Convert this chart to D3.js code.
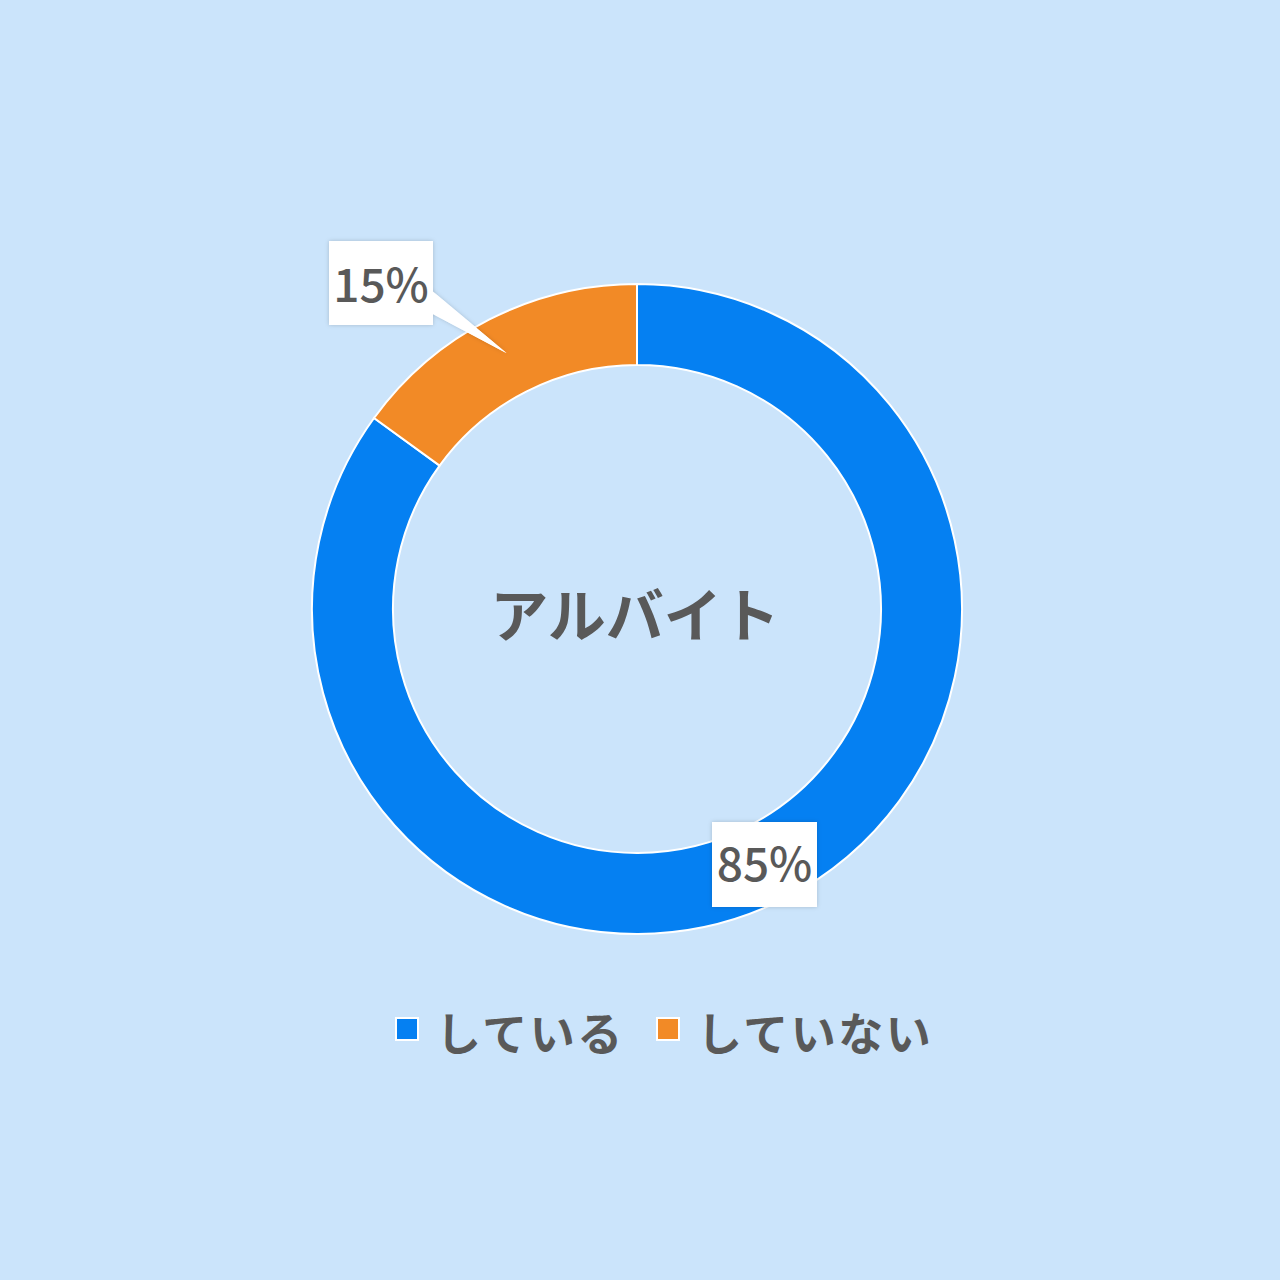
<!DOCTYPE html>
<html><head><meta charset="utf-8">
<script src="https://cdn.jsdelivr.net/npm/d3@7"></script>
<style>html,body{margin:0;padding:0;background:#CBE4FB;}svg{display:block;}</style>
</head><body>
<svg id="c" width="1280" height="1280"></svg>
<script>
const categories = ["している", "していない"];
const values = [85, 15];
const labels = ["85%", "15%"];
const colors = ["#0580F2", "#F28A26"];
const title = "アルバイト";

const svg = d3.select("#c");
const W = 1280, H = 1280;
svg.append("rect").attr("width", W).attr("height", H).attr("fill", "#CBE4FB");
const defs = svg.append("defs");
const f = defs.append("filter").attr("id", "sh").attr("x", "-20%").attr("y", "-20%").attr("width", "140%").attr("height", "140%");
f.append("feDropShadow").attr("dx", 0).attr("dy", 0).attr("stdDeviation", 2).attr("flood-color", "#000").attr("flood-opacity", 0.18);

const cx = 637, cy = 609, rOuter = 325, rInner = 244;
const g = svg.append("g").attr("transform", `translate(${cx},${cy})`);
const pie = d3.pie().sort(null).value(d => d);
const arcs = pie(values);
const arc = d3.arc().innerRadius(rInner).outerRadius(rOuter);
g.selectAll("path.s").data(arcs).enter().append("path")
  .attr("d", arc).attr("fill", (d, i) => colors[i])
  .attr("stroke", "#fff").attr("stroke-width", 2);

const font = "'Noto Sans CJK JP','Noto Sans',sans-serif";
g.append("text").attr("x", -2).attr("y", 3).attr("text-anchor", "middle").attr("dominant-baseline", "central")
  .attr("font-family", font).attr("font-weight", 700).attr("font-size", 58).attr("fill", "#595959").text(title);

// Labels
const lab = svg.append("g");
const box85 = {x: 712, y: 822, w: 105, h: 85};
lab.append("rect").attr("x", box85.x).attr("y", box85.y).attr("width", box85.w).attr("height", box85.h)
  .attr("fill", "#fff").attr("filter", "url(#sh)");
lab.append("text").attr("x", box85.x + box85.w / 2).attr("y", 881).attr("text-anchor", "middle")
  .attr("font-family", font).attr("font-weight", 500).attr("font-size", 46).attr("fill", "#595959").text(labels[0]);

// 15% label with callout
const s15 = arcs[1];
const a15 = (s15.startAngle + s15.endAngle) / 2;
const tipR = 287;
const tip = [cx + Math.sin(a15) * tipR, cy - Math.cos(a15) * tipR];
const box15 = {x: 329, y: 241, w: 104, h: 84};
const ptr = `M${box15.x + box15.w - 2},${290} L${tip[0]},${tip[1]} L${box15.x + box15.w - 2},${313} Z`;
lab.append("path").attr("d", ptr).attr("fill", "#fff").attr("filter", "url(#sh)");
lab.append("rect").attr("x", box15.x).attr("y", box15.y).attr("width", box15.w).attr("height", box15.h)
  .attr("fill", "#fff").attr("filter", "url(#sh)");
lab.append("path").attr("d", ptr).attr("fill", "#fff");
lab.append("text").attr("x", box15.x + box15.w / 2).attr("y", 302).attr("text-anchor", "middle")
  .attr("font-family", font).attr("font-weight", 500).attr("font-size", 46).attr("fill", "#595959").text(labels[1]);

// Legend
const leg = svg.append("g");
const legX = [395, 656];
categories.forEach((c, i) => {
  leg.append("rect").attr("x", legX[i] + 1).attr("y", 1018).attr("width", 22).attr("height", 22)
    .attr("fill", colors[i]).attr("stroke", "#fff").attr("stroke-width", 2);
  leg.append("text").attr("x", legX[i] + 41).attr("y", 1031).attr("dominant-baseline", "central")
    .attr("letter-spacing", 2.5)
    .attr("font-family", font).attr("font-weight", 700).attr("font-size", 45).attr("fill", "#595959").text(c);
});
</script>
</body></html>
